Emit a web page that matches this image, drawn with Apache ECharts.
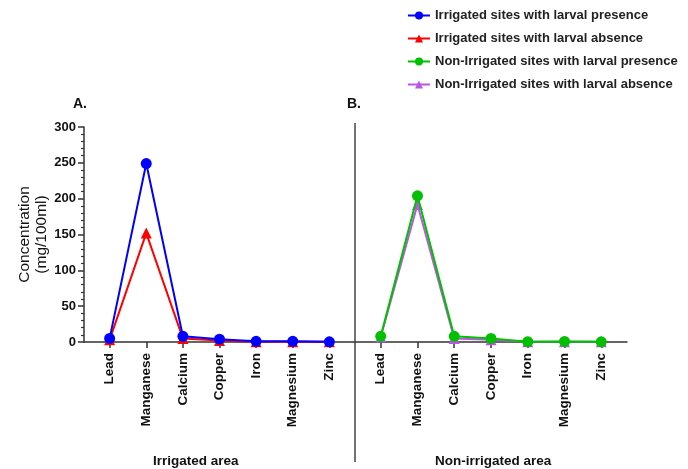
<!DOCTYPE html>
<html>
<head>
<meta charset="utf-8">
<script src="https://cdn.jsdelivr.net/npm/echarts@6/dist/echarts.min.js"></script>
<style>
html,body{margin:0;padding:0;background:#fff;}
#chart{width:688px;height:469px;}
</style>
</head>
<body>
<div id="chart"></div>
<script>
const categories = ['Lead','Manganese','Calcium','Copper','Iron','Magnesium','Zinc'];
const irrigatedPresence = [5, 249, 8, 4, 1, 1, 0.3];
const irrigatedAbsence = [3, 152, 5, 2, 0.5, 0.5, 0.2];
const nonIrrigatedPresence = [8, 204, 8, 5, 0.5, 0.8, 0.3];
const nonIrrigatedAbsence = [7, 192, 5, 3, 0.5, 0.5, 0.2];
const yTicks = [0, 50, 100, 150, 200, 250, 300];

const font = 'Liberation Sans, Arial, sans-serif';
const axisColor = '#333';
const catIdx = categories.map((c, i) => i);
const toPts = arr => arr.map((v, i) => [i, v]);

function xAxisCfg(gi){
  return {
    type:'value', gridIndex:gi, min:-0.7, max:6.7,
    axisLine:{show:true, onZero:false, lineStyle:{color:axisColor, width:1.5}},
    axisTick:{show:true, customValues:catIdx, length:6, lineStyle:{color:axisColor, width:1.5}},
    axisLabel:{customValues:catIdx, rotate:90, margin:11, color:'#111', fontFamily:font, fontWeight:'bold', fontSize:13.5,
      formatter: v => categories[Math.round(v)]},
    splitLine:{show:false}
  };
}

const chart = echarts.init(document.getElementById('chart'));
chart.setOption({
  backgroundColor:'#fff',
  animation:false,
  legend:{
    orient:'vertical', left:402, top:4, itemWidth:22, itemHeight:10, itemGap:10,
    textStyle:{fontFamily:font, fontSize:13, color:'#222', fontWeight:'bold'},
    data:['Irrigated sites with larval presence','Irrigated sites with larval absence','Non-Irrigated sites with larval presence','Non-Irrigated sites with larval absence']
  },
  grid:[
    {left:84, top:127, width:271, height:215},
    {left:355, top:127, width:272, height:215}
  ],
  xAxis:[xAxisCfg(0), xAxisCfg(1)],
  yAxis:[
    {type:'value', gridIndex:0, min:yTicks[0], max:yTicks[yTicks.length-1], interval:50,
     name:'Concentration\n(mg/100ml)', nameLocation:'middle', nameGap:32,
     nameTextStyle:{fontFamily:font, fontSize:15.5, color:'#111', lineHeight:17},
     axisLine:{show:true, onZero:false, lineStyle:{color:axisColor, width:1.5}},
     axisTick:{show:true, length:6, lineStyle:{color:axisColor, width:1.5}},
     minorTick:{show:true, splitNumber:5, length:3, lineStyle:{color:axisColor, width:1.2}},
     axisLabel:{margin:8, color:'#111', fontFamily:font, fontWeight:'bold', fontSize:13},
     splitLine:{show:false}},
    {type:'value', gridIndex:1, min:0, max:300, show:false, axisLine:{onZero:false}, splitLine:{show:false}}
  ],
  graphic:[
    {type:'line', shape:{x1:355, y1:123, x2:355, y2:462}, style:{stroke:'#444', lineWidth:1.5}, z:10},
    {type:'text', left:73, top:97, style:{text:'A.', font:'bold 14px ' + font, fill:'#111'}},
    {type:'text', left:347, top:97, style:{text:'B.', font:'bold 14px ' + font, fill:'#111'}},
    {type:'text', left:153, top:454, style:{text:'Irrigated area', font:'bold 13.5px ' + font, fill:'#111'}},
    {type:'text', left:435, top:454, style:{text:'Non-irrigated area', font:'bold 13.5px ' + font, fill:'#111'}}
  ],
  series:[
    {name:'Irrigated sites with larval presence', type:'line', xAxisIndex:0, yAxisIndex:0, z:4,
     data:toPts(irrigatedPresence), symbol:'circle', symbolSize:11, color:'#0000FF',
     lineStyle:{width:2, color:'#0000FF'}, itemStyle:{color:'#0000FF'}},
    {name:'Irrigated sites with larval absence', type:'line', xAxisIndex:0, yAxisIndex:0, z:3,
     data:toPts(irrigatedAbsence), symbol:'triangle', symbolSize:11, color:'#FF0000',
     lineStyle:{width:2, color:'#FF0000'}, itemStyle:{color:'#FF0000'}},
    {name:'Non-Irrigated sites with larval presence', type:'line', xAxisIndex:1, yAxisIndex:1, z:4,
     data:toPts(nonIrrigatedPresence), symbol:'circle', symbolSize:11, color:'#00C000',
     lineStyle:{width:2, color:'#00C000'}, itemStyle:{color:'#00C000'}},
    {name:'Non-Irrigated sites with larval absence', type:'line', xAxisIndex:1, yAxisIndex:1, z:3,
     data:toPts(nonIrrigatedAbsence), symbol:'triangle', symbolSize:11, color:'#BB55E6',
     lineStyle:{width:2, color:'#BB55E6'}, itemStyle:{color:'#BB55E6'}}
  ]
});
</script>
</body>
</html>
